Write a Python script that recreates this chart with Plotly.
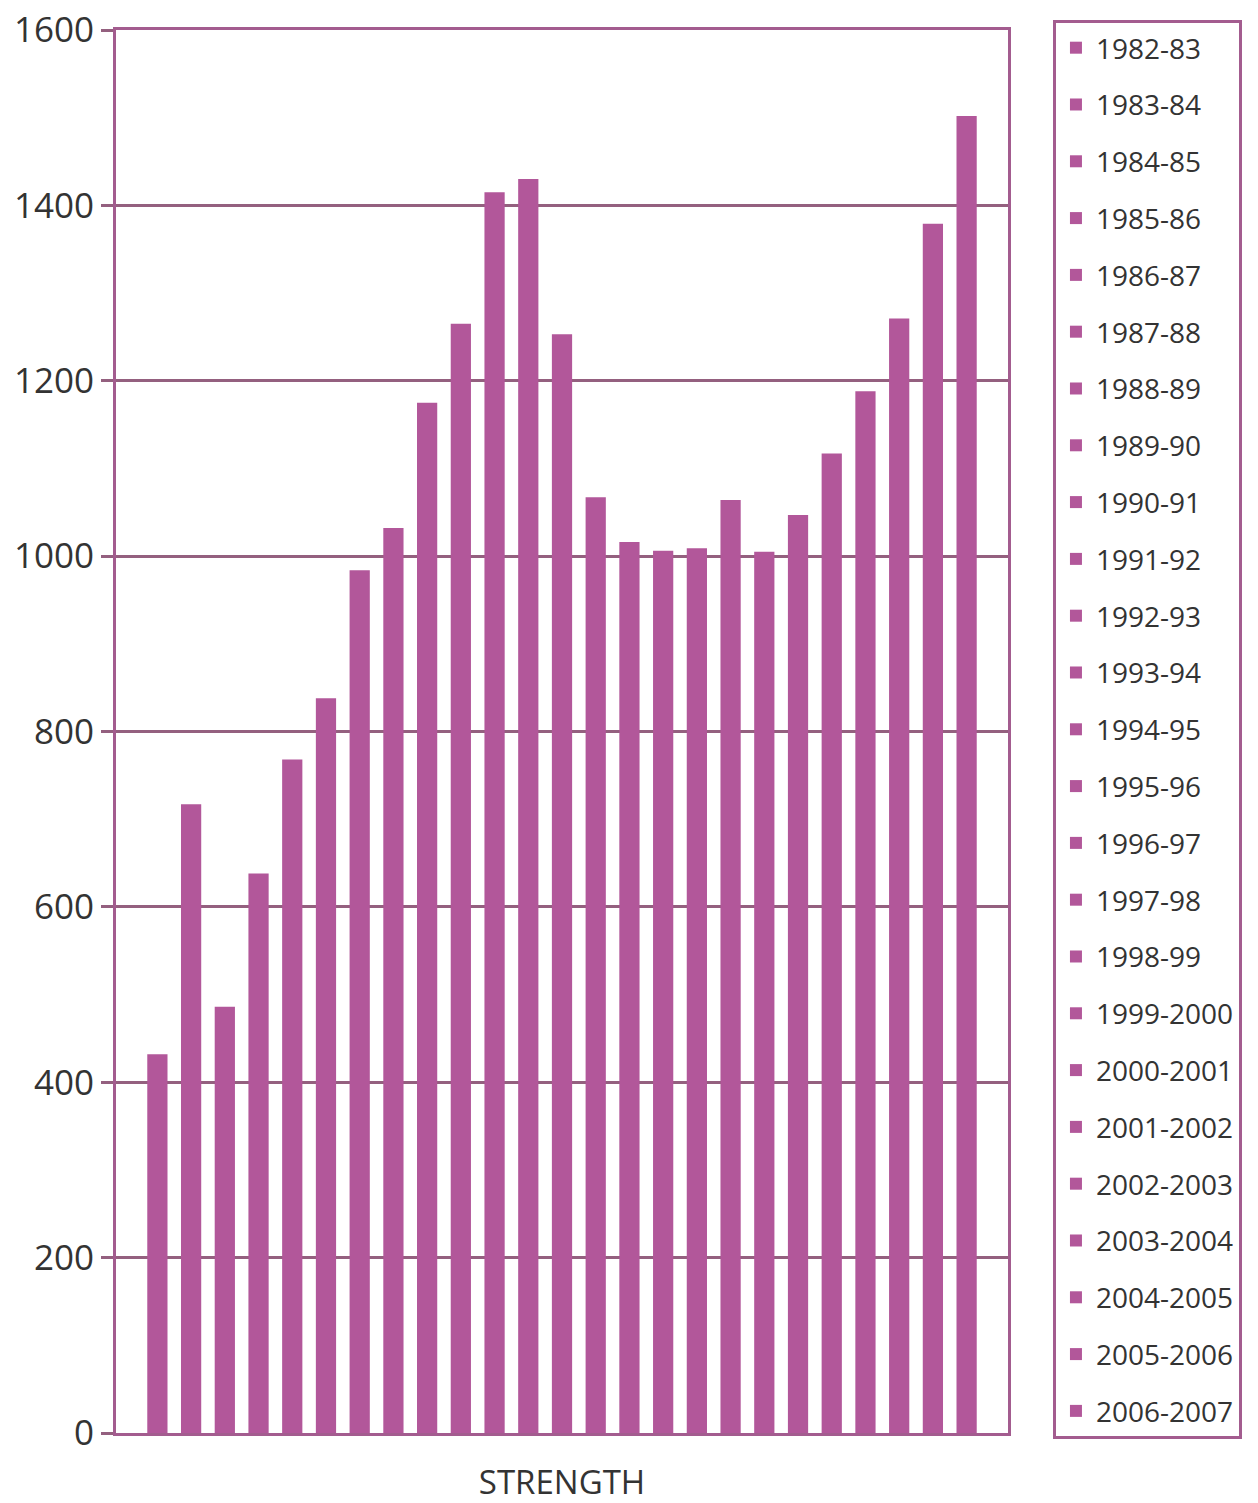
import plotly.graph_objects as go

seasons = ["1982-83", "1983-84", "1984-85", "1985-86", "1986-87", "1987-88",
           "1988-89", "1989-90", "1990-91", "1991-92", "1992-93", "1993-94",
           "1994-95", "1995-96", "1996-97", "1997-98", "1998-99", "1999-2000",
           "2000-2001", "2001-2002", "2002-2003", "2003-2004", "2004-2005",
           "2005-2006", "2006-2007"]
strength = [432, 717, 486, 638, 768, 838, 984, 1032, 1175, 1265, 1415, 1430,
            1253, 1067, 1016, 1006, 1009, 1064, 1005, 1047, 1117, 1188, 1271,
            1379, 1502]
category = ["STRENGTH"]
y_ticks = [0, 200, 400, 600, 800, 1000, 1200, 1400, 1600]

BAR = "#b2579a"
GRID = "#94607f"
FRAME = "#a35c8f"
TEXT = "#333333"

fig = go.Figure()
for i, (s, v) in enumerate(zip(seasons, strength)):
    fig.add_trace(go.Bar(
        x=category, y=[v], name=s, legendgroup=s,
        marker=dict(color=BAR, line=dict(width=0)),
    ))

fig.update_layout(
    width=1258, height=1503,
    margin=dict(l=116, r=250, t=30, b=70, autoexpand=False),
    paper_bgcolor="white", plot_bgcolor="white",
    barmode="group", bargap=0.055, bargroupgap=0.4,
    font=dict(family="Open Sans", color=TEXT),
    showlegend=True,
    legend=dict(
        x=1.0504, xanchor="left", yref="container", y=0.9867, yanchor="top",
        bordercolor=FRAME, borderwidth=3, bgcolor="white",
        font=dict(size=28, color=TEXT, family="Open Sans"),
        tracegroupgap=17.4, itemwidth=30, maxheight=1480,
        entrywidth=166, entrywidthmode="pixels",
    ),
)
fig.update_xaxes(
    showline=True, linecolor=FRAME, linewidth=3, mirror=True,
    ticks="", tickfont=dict(size=33, color=TEXT), ticklabelstandoff=18,
    showgrid=False,
)
fig.update_yaxes(
    range=[0, 1600], tickvals=y_ticks, ticktext=[str(t) for t in y_ticks],
    showline=True, linecolor=FRAME, linewidth=3, mirror=True,
    ticks="outside", ticklen=12, tickwidth=3, tickcolor=GRID,
    tickfont=dict(size=35, color=TEXT),
    showgrid=True, gridcolor=GRID, gridwidth=3, zeroline=False,
)

fig.write_html("out.html")
